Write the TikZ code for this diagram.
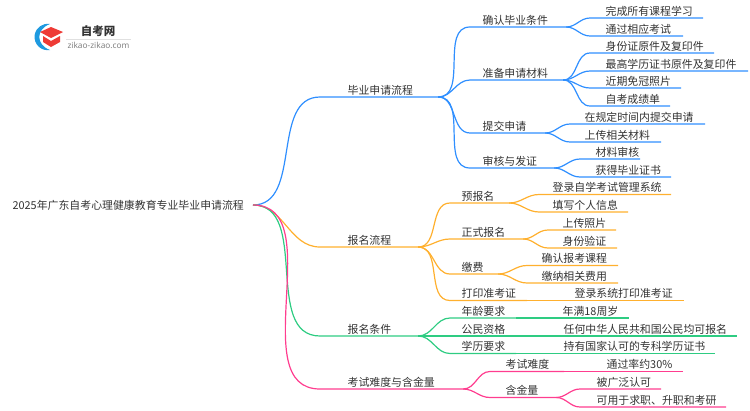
\documentclass[tikz,border=0pt]{standalone}
\usepackage{fontspec}
\setmainfont{Noto Sans CJK SC}
\newfontfamily\latinfont{Noto Sans}
\usetikzlibrary{positioning}
\definecolor{lnblue}{HTML}{2F8FFF}
\definecolor{lnorange}{HTML}{FFB02E}
\definecolor{lngreen}{HTML}{2ECC82}
\definecolor{lnpink}{HTML}{FF3D8F}
\definecolor{txtgrey}{HTML}{333333}
\definecolor{logoblue}{HTML}{1E9AE0}
\definecolor{logored}{HTML}{EE3B36}

\begin{document}
\begin{tikzpicture}[x=1pt,y=-1pt,line width=1.2pt,
	lab/.style 2 args={anchor=south west,inner xsep=0pt,inner ysep=0pt,text width=#1pt,align=left,
		execute at begin node={\hspace*{#2pt}},text height=9pt,text depth=2pt,
		text=txtgrey,font=\fontsize{10.9}{12}\selectfont},
	cv/.style={out=0,in=180},
	blu/.style={draw=lnblue},
	org/.style={draw=lnorange},
	grn/.style={draw=lngreen},
	pnk/.style={draw=lnpink}]
	\useasboundingbox (0,0) rectangle (750,410);
	% logo
	\fill[logoblue] (50,24) arc (80:280:13.2pt) to[bend left=70,looseness=1.5] (50,24);
	\fill[logored] (51,27) -- (63,32) -- (51,38) -- (40,32) -- cycle;
	\fill[logored] (43,36) -- (51,41) -- (60,36) -- (60,42) -- (51,47) -- (43,42) -- cycle;
	\node[inner sep=0pt,text=txtgrey,font=\fontsize{11.5}{12}\selectfont\bfseries] (logotxt) at (98,31) {自考网};
	\node[inner sep=0pt,text=gray,font=\fontsize{8.3}{9}\selectfont\latinfont] (logourl) at (98.5,45) {zikao-zikao.com};
	\draw[black!12,line width=0.6pt] (66,39) -- (131,39);
	% root
	\node[inner sep=0pt,anchor=west,text=txtgrey,font=\fontsize{10.9}{12}\selectfont] (root) at (12,205) {2025年广东自考心理健康教育专业毕业申请流程};
	\coordinate (rt) at (253,205);
	% first branch
	\node[lab={117}{27}] (a) at (320,97) {毕业申请流程};
	\node[lab={95}{12}] (a1) at (470,27) {确认毕业条件};
	\node[lab={92}{12}] (a2) at (470,80) {准备申请材料};
	\node[lab={74}{12}] (a3) at (470,133) {提交申请};
	\node[lab={83}{12}] (a4) at (470,168) {审核与发证};
	\node[lab={112}{15}] (a11) at (590,18) {完成所有课程学习};
	\node[lab={92}{15}] (a12) at (590,36) {通过相应考试};
	\node[lab={123}{15}] (a21) at (590,53) {身份证原件及复印件};
	\node[lab={157}{15}] (a22) at (590,71) {最高学历证书原件及复印件};
	\node[lab={90}{15}] (a23) at (590,88) {近期免冠照片};
	\node[lab={79}{15}] (a24) at (590,106) {自考成绩单};
	\node[lab={134}{14}] (a31) at (570,124) {在规定时间内提交申请};
	\node[lab={90}{14}] (a32) at (570,142) {上传相关材料};
	\node[lab={59}{15}] (a41) at (580,159) {材料审核};
	\node[lab={90}{15}] (a42) at (580,177) {获得毕业证书};
	\draw[blu] (rt) to[cv] (a.south west) -- (a.south east);
	\draw[blu] (a.south east) to[cv] (a1.south west) -- (a1.south east);
	\draw[blu] (a.south east) to[cv] (a2.south west) -- (a2.south east);
	\draw[blu] (a.south east) to[cv] (a3.south west) -- (a3.south east);
	\draw[blu] (a.south east) to[cv] (a4.south west) -- (a4.south east);
	\draw[blu] (a1.south east) to[cv] (a11.south west) -- (a11.south east);
	\draw[blu] (a1.south east) to[cv] (a12.south west) -- (a12.south east);
	\draw[blu] (a2.south east) to[cv] (a21.south west) -- (a21.south east);
	\draw[blu] (a2.south east) to[cv] (a22.south west) -- (a22.south east);
	\draw[blu] (a2.south east) to[cv] (a23.south west) -- (a23.south east);
	\draw[blu] (a2.south east) to[cv] (a24.south west) -- (a24.south east);
	\draw[blu] (a3.south east) to[cv] (a31.south west) -- (a31.south east);
	\draw[blu] (a3.south east) to[cv] (a32.south west) -- (a32.south east);
	\draw[blu] (a4.south east) to[cv] (a41.south west) -- (a41.south east);
	\draw[blu] (a4.south east) to[cv] (a42.south west) -- (a42.south east);
	% second branch
	\node[lab={97}{27}] (b) at (320,247) {报名流程};
	\node[lab={58}{11}] (b1) at (450,203) {预报名};
	\node[lab={72}{11}] (b2) at (450,239) {正式报名};
	\node[lab={47}{11}] (b3) at (450,274) {缴费};
	\node[lab={76}{11}] (b4) at (450,300.5) {打印准考证};
	\node[lab={131}{13}] (b11) at (539,194.5) {登录自学考试管理系统};
	\node[lab={88}{13}] (b12) at (539,212) {填写个人信息};
	\node[lab={67}{14}] (b21) at (548,230) {上传照片};
	\node[lab={68}{14}] (b22) at (548,248) {身份验证};
	\node[lab={90}{14}] (b31) at (527,265.5) {确认报考课程};
	\node[lab={90}{14}] (b32) at (527,283) {缴纳相关费用};
	\node[lab={118}{9}] (b41) at (565,300.5) {登录系统打印准考证};
	\draw[org] (rt) to[cv] (b.south west) -- (b.south east);
	\draw[org] (b.south east) to[cv] (b1.south west) -- (b1.south east);
	\draw[org] (b.south east) to[cv] (b2.south west) -- (b2.south east);
	\draw[org] (b.south east) to[cv] (b3.south west) -- (b3.south east);
	\draw[org] (b.south east) to[cv] (b4.south west) -- (b4.south east);
	\draw[org] (b1.south east) to[cv] (b11.south west) -- (b11.south east);
	\draw[org] (b1.south east) to[cv] (b12.south west) -- (b12.south east);
	\draw[org] (b2.south east) to[cv] (b21.south west) -- (b21.south east);
	\draw[org] (b2.south east) to[cv] (b22.south west) -- (b22.south east);
	\draw[org] (b3.south east) to[cv] (b31.south west) -- (b31.south east);
	\draw[org] (b3.south east) to[cv] (b32.south west) -- (b32.south east);
	\draw[org] (b4.south east) -- (b41.south west) -- (b41.south east);
	% third branch
	\node[lab={97}{27}] (c) at (320,336) {报名条件};
	\node[lab={65}{11}] (c1) at (450,318) {年龄要求};
	\node[lab={65}{11}] (c2) at (450,336) {公民资格};
	\node[lab={65}{11}] (c3) at (450,353.5) {学历要求};
	\node[lab={76}{10}] (c11) at (552,318) {年满18周岁};
	\node[lab={183}{10}] (c21) at (553,336) {任何中华人民共和国公民均可报名};
	\node[lab={162}{11}] (c31) at (552,353.5) {持有国家认可的专科学历证书};
	\draw[grn] (rt) to[cv] (c.south west) -- (c.south east);
	\draw[grn] (c.south east) to[cv] (c1.south west) -- (c1.south east);
	\draw[grn] (c.south east) to[cv] (c2.south west) -- (c2.south east);
	\draw[grn] (c.south east) to[cv] (c3.south west) -- (c3.south east);
	\draw[grn] (c1.south east) -- (c11.south west) -- (c11.south east);
	\draw[grn] (c2.south east) -- (c21.south west) -- (c21.south east);
	\draw[grn] (c3.south east) -- (c31.south west) -- (c31.south east);
	% fourth branch
	\node[lab={142}{27}] (d) at (320,389) {考试难度与含金量};
	\node[lab={73}{15}] (d1) at (490,371.5) {考试难度};
	\node[lab={65}{15}] (d2) at (490,397.5) {含金量};
	\node[lab={86}{10}] (d11) at (596,371.5) {通过率约30\%};
	\node[lab={80}{16}] (d21) at (580,389) {被广泛认可};
	\node[lab={145}{16}] (d22) at (580,407) {可用于求职、升职和考研};
	\draw[pnk] (rt) to[cv] (d.south west) -- (d.south east);
	\draw[pnk] (d.south east) to[cv] (d1.south west) -- (d1.south east);
	\draw[pnk] (d.south east) to[cv] (d2.south west) -- (d2.south east);
	\draw[pnk] (d1.south east) -- (d11.south west) -- (d11.south east);
	\draw[pnk] (d2.south east) to[cv] (d21.south west) -- (d21.south east);
	\draw[pnk] (d2.south east) to[cv] (d22.south west) -- (d22.south east);
\end{tikzpicture}
\end{document}
